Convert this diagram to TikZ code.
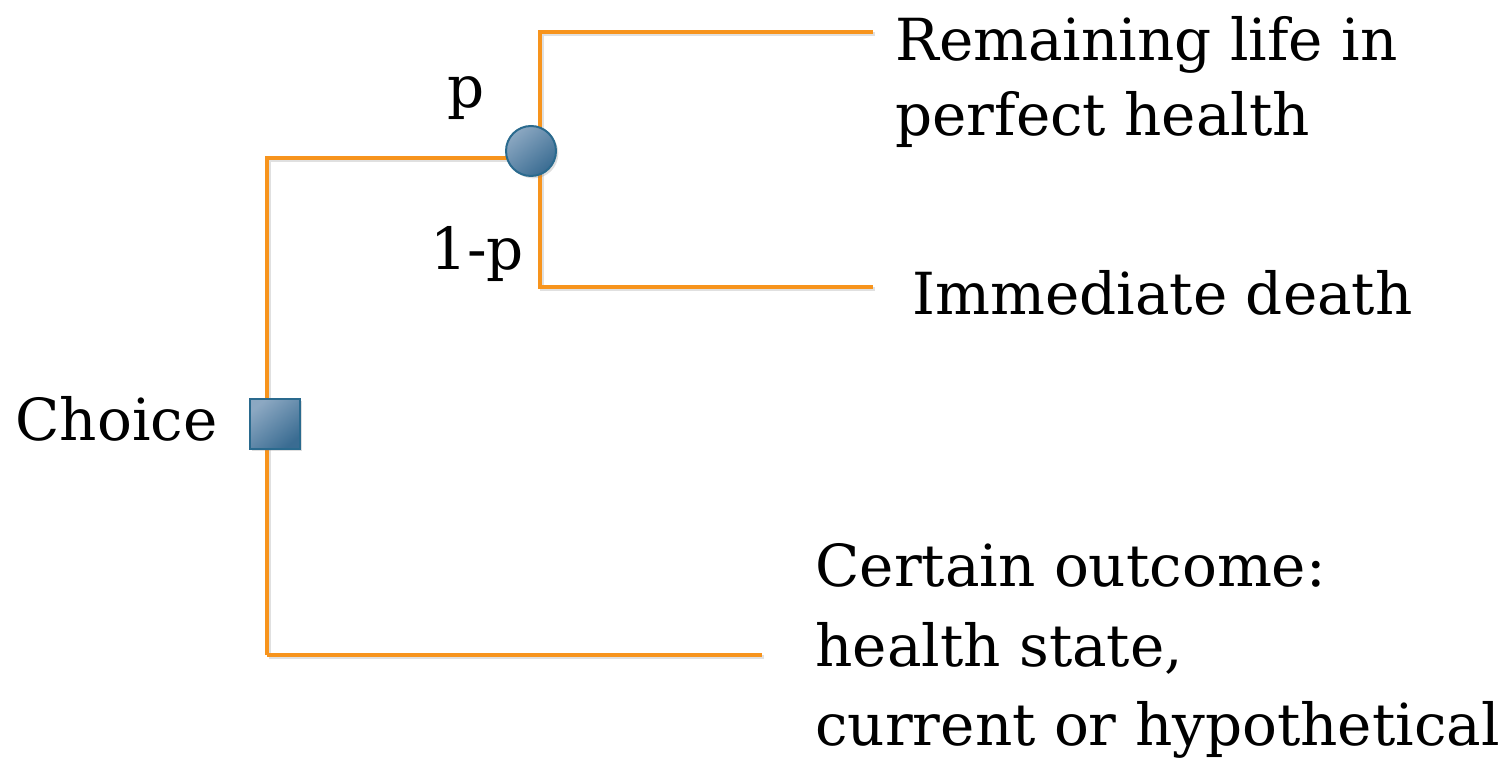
\documentclass[tikz,border=0pt]{standalone}
\usepackage{fontspec}
\setmainfont{DejaVu Serif}
\usetikzlibrary{shadows}
\definecolor{branch}{RGB}{247,148,29}
\definecolor{nodeedge}{RGB}{42,106,142}
\definecolor{nodelight}{RGB}{140,168,194}
\definecolor{nodedark}{RGB}{58,108,146}
\tikzset{
  x=0.5pt, y=-0.5pt,
  branchline/.style={draw=branch, line width=2pt,
    preaction={draw=black, draw opacity=0.12, line width=2pt, transform canvas={xshift=0.8pt, yshift=-0.8pt}}},
  lbl/.style={font=\fontsize{29}{35}\selectfont, inner sep=0pt, anchor=base west},
  nodefill/.style={draw=nodeedge, line width=1pt, top color=nodelight, bottom color=nodedark,
    shading angle=40, drop shadow={opacity=0.25, shadow xshift=1.2pt, shadow yshift=-1.2pt}},
  choicebox/.style={rectangle, minimum size=25pt, inner sep=0pt, nodefill},
  chancenode/.style={circle, minimum size=25pt, inner sep=0pt, nodefill}
}
\begin{document}
\begin{tikzpicture}
\useasboundingbox (0,0) rectangle (1499,758);
% coordinates
\coordinate (ctop) at (267,158);
\coordinate (cbot) at (267,655);
\coordinate (bend) at (762,655);
\coordinate (vtop) at (540,32);
\coordinate (vbot) at (540,287);
\coordinate (e1) at (873,32);
\coordinate (e2) at (873,287);
\coordinate (hin) at (531,158);
% branches
\draw[branchline] (cbot) -- (ctop) -- (hin);
\draw[branchline] (cbot) -- (bend);
\draw[branchline] (e1) -- (vtop) -- (vbot) -- (e2);
% nodes
\node[choicebox] (choice) at (275,424) {};
\node[chancenode] (chance) at (531,151) {};
% labels
\node[lbl] (lchoice) at (15,441) {Choice};
\node[lbl] (lp) at (447,108) {p};
\node[lbl] (lq) at (430,270) {1-p};
\node[lbl] (o1a) at (895,61) {Remaining life in};
\node[lbl] (o1b) at (895,136) {perfect health};
\node[lbl] (o2) at (912,315) {Immediate death};
\node[lbl] (o3a) at (815,587) {Certain outcome:};
\node[lbl] (o3b) at (815,667) {health state,};
\node[lbl] (o3c) at (815,745) {current or hypothetical};
\end{tikzpicture}
\end{document}
